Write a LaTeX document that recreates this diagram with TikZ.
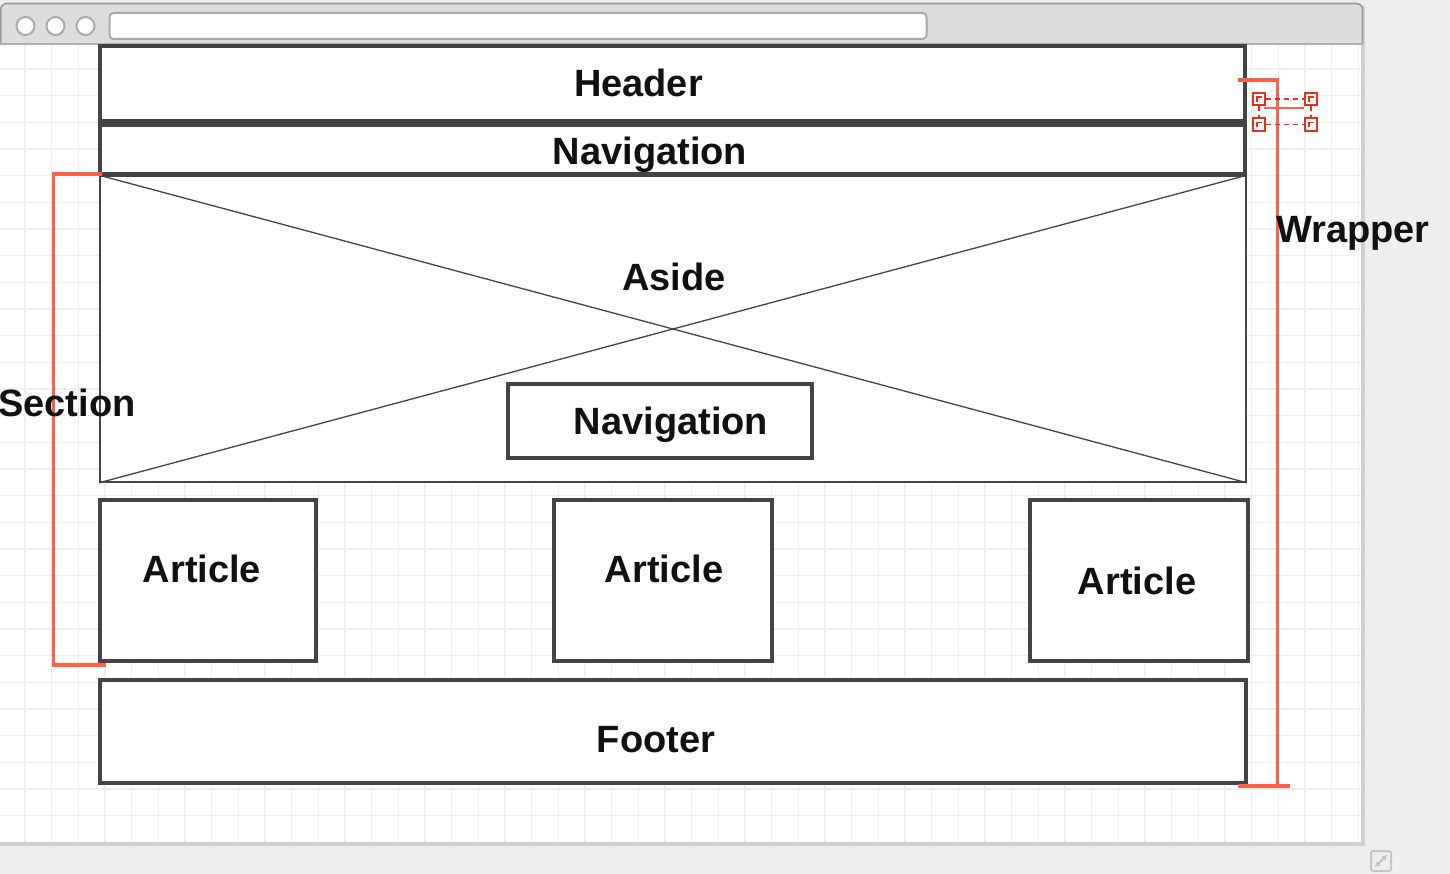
\documentclass[tikz,border=0pt]{standalone}
\usepackage{fontspec}
\setmainfont{Liberation Sans}
\usetikzlibrary{arrows.meta}
\definecolor{bg}{HTML}{EEEEEE}
\definecolor{bar}{HTML}{DDDDDD}
\definecolor{barline}{HTML}{9C9C9C}
\definecolor{ctrl}{HTML}{AAAAAA}
\definecolor{gridc}{HTML}{EFEFEF}
\definecolor{boxgray}{HTML}{444444}
\definecolor{txt}{HTML}{111111}
\definecolor{bracket}{RGB}{255,96,70}
\definecolor{handle}{RGB}{228,48,28}
\begin{document}
\begin{tikzpicture}[x=1pt,y=-1pt,
  box/.style={draw=boxgray, line width=3.6pt, fill=white, inner sep=0pt},
  thinbox/.style={draw=boxgray, line width=1.5pt, fill=white, inner sep=0pt},
  lbl/.style={font=\fontsize{38}{40}\selectfont\bfseries, text=txt, inner sep=0pt, anchor=base},
  brk/.style={draw=bracket, line width=3.6pt},
  gline/.style={draw=gridc, line width=1.2pt},
  hbox/.style={draw=handle, line width=2pt, fill=white, minimum size=12.5pt, inner sep=0pt},
  hdash/.style={draw=handle, line width=1.7pt, dash pattern=on 5pt off 4pt}]
\useasboundingbox (0,0) rectangle (1450,874);
\fill[bg] (0,0) rectangle (1450,874);
% window shadow and body
\fill[black!18] (0,6) rectangle (1365,846);
\fill[white] (0,44) rectangle (1361,842);
% grid
\foreach \i in {0,...,50} {\draw[gline] ({25+26.667*\i},45) -- ({25+26.667*\i},842);}
\foreach \j in {2,...,30} {\draw[gline] (0,{15.7+26.667*\j}) -- (1361,{15.7+26.667*\j});}
% title bar
\draw[barline, fill=bar, line width=1.6pt, rounded corners=6pt] (0.8,44) -- (0.8,3.5) -- (1362.5,3.5) -- (1362.5,44);
\draw[barline!80, line width=1.4pt] (0,44) -- (1362.5,44);
\foreach \cx/\nm in {25.5/c1,55.5/c2,85.5/c3} {\node[circle, draw=ctrl, line width=2pt, fill=white, minimum size=18pt, inner sep=0pt] (\nm) at (\cx,26) {};}
\node[draw=ctrl, line width=2pt, fill=white, rounded corners=4pt, minimum width=817pt, minimum height=26pt, inner sep=0pt] (addr) at (518,26) {};
% boxes
\node[box, minimum width=1145pt, minimum height=75pt] (header) at (672.5,83.5) {};
\node[box, minimum width=1145pt, minimum height=49pt] (nav) at (672.5,149.5) {};
\node[thinbox, minimum width=1146pt, minimum height=306pt] (aside) at (673,329) {};
\draw[boxgray, line width=3.6pt] (100,174) -- (1245,174);
\draw[boxgray, line width=1.3pt] (aside.north west) -- (aside.south east);
\draw[boxgray, line width=1.3pt] (aside.north east) -- (aside.south west);
\node[box, minimum width=304pt, minimum height=74pt] (innernav) at (660,421) {};
\node[box, minimum width=216pt, minimum height=161pt] (art1) at (208,580.5) {};
\node[box, minimum width=218pt, minimum height=161pt] (art2) at (663,580.5) {};
\node[box, minimum width=218pt, minimum height=161pt] (art3) at (1139,580.5) {};
\node[box, minimum width=1146pt, minimum height=103pt] (footer) at (673,731.5) {};
% brackets
\coordinate (s1) at (101.5,174);
\coordinate (s2) at (53.5,174);
\coordinate (s3) at (53.5,665);
\coordinate (s4) at (106,665);
\draw[brk] (s1) -- (s2) -- (s3) -- (s4);
\coordinate (w1) at (1238,80);
\coordinate (w2) at (1277.5,80);
\coordinate (w3) at (1277.5,786);
\coordinate (w0) at (1238,786);
\coordinate (w4) at (1290,786);
\draw[brk] (w1) -- (w2) -- (w3);
\draw[brk] (w0) -- (w4);
% selected small shape with handles
\coordinate (m1) at (1264,108);
\coordinate (m2) at (1304,108);
\draw[bracket, line width=2.6pt] (m1) -- (m2);
\node[hbox] (h1) at (1259,99) {};
\node[hbox] (h2) at (1311,99) {};
\node[hbox] (h3) at (1259,124.5) {};
\node[hbox] (h4) at (1311,124.5) {};
\draw[hdash] (h1.east) -- (h2.west);
\draw[hdash] (h3.east) -- (h4.west);
\draw[hdash] (h1.south) -- (h3.north);
\draw[hdash] (h2.south) -- (h4.north);
\foreach \h in {h1,h2,h3,h4} {\draw[handle, line width=1.4pt] ([xshift=-2pt,yshift=-3pt]\h.center) -- ([xshift=-2pt,yshift=2pt]\h.center) -- ([xshift=3pt,yshift=2pt]\h.center);}
% labels
\node[lbl] (tHeader) at (638.5,96.5) {Header};
\node[lbl] (tNav) at (650,164.5) {Navigation};
\node[lbl] (tAside) at (674,290.5) {Aside};
\node[lbl] (tInner) at (671,434.5) {Navigation};
\node[lbl] (tSection) at (67,416.5) {Section};
\node[lbl] (tWrapper) at (1353,242.5) {Wrapper};
\node[lbl] (tA1) at (202,582.5) {Article};
\node[lbl] (tA2) at (664,582.5) {Article};
\node[lbl] (tA3) at (1137,594.5) {Article};
\node[lbl] (tFooter) at (656,752.5) {Footer};
% resize icon
\node[draw=black!22, line width=2pt, rounded corners=1.5pt, minimum size=20pt, inner sep=0pt] (rsz) at (1381,861) {};
\draw[black!22, line width=2.2pt, {Triangle[length=5pt,width=5pt]}-{Triangle[length=5pt,width=5pt]}] ([shift={(-6pt,-6pt)}]rsz.center) -- ([shift={(6pt,6pt)}]rsz.center);
\end{tikzpicture}
\end{document}
